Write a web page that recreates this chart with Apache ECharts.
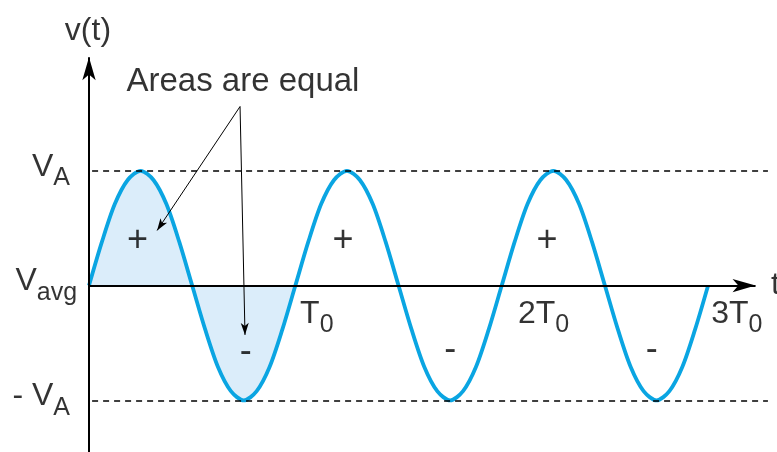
<!DOCTYPE html>
<html>
<head>
<meta charset="utf-8">
<script src="https://cdn.jsdelivr.net/npm/echarts@6/dist/echarts.min.js"></script>
<style>
html,body{margin:0;padding:0;background:#fff}
#main{width:777px;height:452px}
</style>
</head>
<body>
<div id="main"></div>
<script>
// time in periods (T0), read every 1/16 period
var tData = [0, 0.0625, 0.125, 0.1875, 0.25, 0.3125, 0.375, 0.4375,
             0.5, 0.5625, 0.625, 0.6875, 0.75, 0.8125, 0.875, 0.9375,
             1, 1.0625, 1.125, 1.1875, 1.25, 1.3125, 1.375, 1.4375,
             1.5, 1.5625, 1.625, 1.6875, 1.75, 1.8125, 1.875, 1.9375,
             2, 2.0625, 2.125, 2.1875, 2.25, 2.3125, 2.375, 2.4375,
             2.5, 2.5625, 2.625, 2.6875, 2.75, 2.8125, 2.875, 2.9375, 3];
// v(t) relative to VA
var vData = [0, 0.38, 0.71, 0.92, 1, 0.92, 0.71, 0.38,
             0, -0.38, -0.71, -0.92, -1, -0.92, -0.71, -0.38,
             0, 0.38, 0.71, 0.92, 1, 0.92, 0.71, 0.38,
             0, -0.38, -0.71, -0.92, -1, -0.92, -0.71, -0.38,
             0, 0.38, 0.71, 0.92, 1, 0.92, 0.71, 0.38,
             0, -0.38, -0.71, -0.92, -1, -0.92, -0.71, -0.38, 0];
// first period is shaded
var shadeCount = 17;
// level lines
var levelVA = 1;
var levelMinusVA = -1;

var FONT = '"Liberation Sans", Arial, sans-serif';
var waveColor = '#0aa5e2';
var shadeColor = '#dbedfa';

var wavePts = [];
for (var i = 0; i < tData.length; i++) {
	wavePts.push([tData[i], vData[i]]);
}
var shadePts = wavePts.slice(0, shadeCount);

// rich text styles for V_A, T_0 ...
var rich = {
	m: {fontSize: 32, fontFamily: FONT, color: '#000', verticalAlign: 'bottom', padding: [0, 0, 8, 0]},
	s: {fontSize: 25, fontFamily: FONT, color: '#000', verticalAlign: 'bottom'},
	p: {fontSize: 32, fontFamily: FONT, color: '#000'},
	q: {fontSize: 33, fontFamily: FONT, color: '#000'},
	sign: {fontSize: 36, fontFamily: FONT, color: '#000'}
};

// annotation texts: [t, v, text, align]
var notes = [
	[-0.005, 2.22, '{p|v(t)}', 'center'],
	[0.746, 1.77, '{q|Areas are equal}', 'center'],
	[-0.092, 1.0, '{m|V}{s|A}', 'right'],
	[-0.058, 0.0, '{m|V}{s|avg}', 'right'],
	[-0.092, -1.0, '{m|- V}{s|A}', 'right'],
	[1.023, -0.28, '{m|T}{s|0}', 'left'],
	[2.079, -0.28, '{m|2T}{s|0}', 'left'],
	[3.015, -0.28, '{m|3T}{s|0}', 'left'],
	[3.305, 0.0, '{p|t}', 'left'],
	[0.235, 0.39, '{sign|+}', 'center'],
	[1.231, 0.39, '{sign|+}', 'center'],
	[2.220, 0.39, '{sign|+}', 'center'],
	[0.759, -0.58, '{sign|-}', 'center'],
	[1.750, -0.56, '{sign|-}', 'center'],
	[2.727, -0.56, '{sign|-}', 'center']
];

var noteData = [];
for (var j = 0; j < notes.length; j++) {
	noteData.push({
		value: [notes[j][0], notes[j][1]],
		label: {
			show: true,
			position: 'inside',
			align: notes[j][3],
			verticalAlign: 'middle',
			formatter: notes[j][2],
			rich: rich
		}
	});
}

function seg(a, b, style, arrowSize) {
	return [
		{coord: a, symbol: 'none'},
		{coord: b, symbol: arrowSize ? 'arrow' : 'none', symbolSize: arrowSize || 0, lineStyle: style}
	];
}

var axisStyle = {color: '#000', width: 2, type: 'solid'};
var dashStyle = {color: '#000', width: 1.5, type: [6, 5]};
var thinStyle = {color: '#000', width: 1, type: 'solid'};

var guideLines = [
	seg([0.015, levelVA], [3.29, levelVA], dashStyle),
	seg([0.015, levelMinusVA], [3.29, levelMinusVA], dashStyle),
	seg([0, 0], [3.23, 0], axisStyle, [10, 23]),
	seg([0, -1.45], [0, 1.99], axisStyle, [10, 23]),
	seg([0.732, 1.56], [0.33, 0.48], thinStyle, [6, 12]),
	seg([0.732, 1.56], [0.756, -0.43], thinStyle, [6, 12])
];

var chart = echarts.init(document.getElementById('main'));
chart.setOption({
	animation: false,
	backgroundColor: '#fff',
	grid: {left: 89, top: 56, width: 681, height: 400},
	xAxis: {type: 'value', min: 0, max: 3.3, show: false},
	yAxis: {type: 'value', min: -1.45, max: 2, show: false},
	series: [
		{
			type: 'line',
			data: shadePts,
			smooth: 0.3,
			showSymbol: false,
			silent: true,
			lineStyle: {width: 0},
			areaStyle: {color: shadeColor, opacity: 1},
			z: 1
		},
		{
			type: 'line',
			data: [],
			clip: false,
			silent: true,
			markLine: {
				silent: true,
				animation: false,
				label: {show: false},
				symbol: ['none', 'none'],
				data: guideLines
			},
			z: 2
		},
		{
			type: 'line',
			data: wavePts,
			smooth: 0.3,
			showSymbol: false,
			silent: true,
			lineStyle: {color: waveColor, width: 3.8},
			z: 3
		},
		{
			type: 'scatter',
			data: noteData,
			symbolSize: 0,
			clip: false,
			silent: true,
			z: 4
		}
	]
});
</script>
</body>
</html>
